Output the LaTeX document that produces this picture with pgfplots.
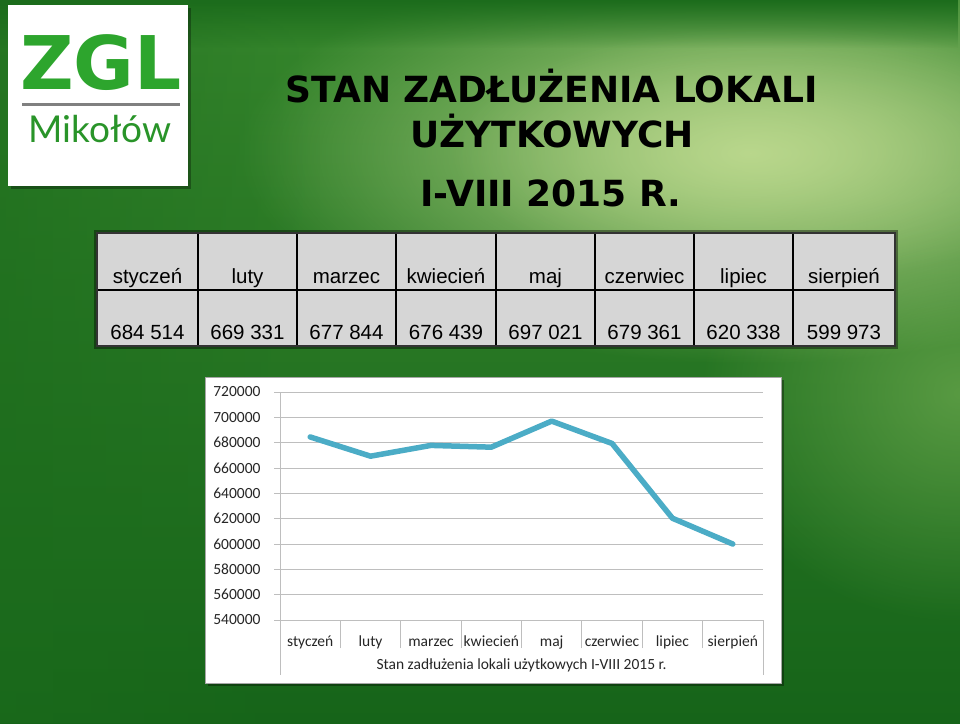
\documentclass[border=0pt]{standalone}
\usepackage{pgfplots}
\pgfplotsset{compat=1.18}
\usepackage{fontspec}
\setmainfont{Liberation Sans}
\newfontfamily\titlefont{DejaVu Sans}
\newfontfamily\calib{Carlito}
\newfontfamily\logofont{DejaVu Sans}
\newfontfamily\mikofont{Lato}
\usetikzlibrary{fadings}
\definecolor{bgtop}{RGB}{55,135,45}
\definecolor{bgbot}{RGB}{22,100,25}
\definecolor{bglight}{RGB}{185,215,140}
\definecolor{bgmid}{RGB}{110,170,80}
\definecolor{bgdark}{RGB}{28,108,28}
\definecolor{linec}{RGB}{75,172,198}
\definecolor{logogreen}{RGB}{45,165,45}
\definecolor{cellgray}{RGB}{214,214,214}
\definecolor{gridc}{RGB}{190,190,190}
\tikzfading[name=radfade, inner color=transparent!0, outer color=transparent!100]
\tikzfading[name=fadedown, top color=transparent!0, bottom color=transparent!100]
\tikzfading[name=faderight, left color=transparent!0, right color=transparent!100]
\begin{document}
\begin{tikzpicture}[x=1pt,y=1pt]
\clip (0,0) rectangle (960,723);
% background
\shade[top color=bgtop, bottom color=bgbot] (0,0) rectangle (960,723);
\fill[bgmid, path fading=radfade, opacity=0.7] (700,100) rectangle (1220,560);
\fill[bglight, path fading=radfade] (240,360) rectangle (1260,780);
\fill[bglight, path fading=radfade, opacity=0.6] (450,440) rectangle (1100,700);
\fill[bgdark, path fading=fadedown] (0,675) rectangle (960,723);
\fill[bgdark, path fading=faderight, opacity=0.6] (0,0) rectangle (320,723);
% logo
\fill[black, opacity=0.3] (11,534) rectangle (191,715);
\fill[white] (8,537) rectangle (188,718);
\node[anchor=base, inner sep=0, text=logogreen, font=\logofont\bfseries\fontsize{74}{74}\selectfont] at (101,633) {ZGL};
\draw[gray, line width=3pt] (22,618) -- (180,618);
\node[anchor=base, inner sep=0, text=logogreen!90!black, font=\mikofont\fontsize{37}{37}\selectfont] at (100,580) {Mikołów};
% title
\begin{scope}[every node/.style={anchor=base, inner sep=0, font=\titlefont\bfseries\fontsize{36}{36}\selectfont}]
\node at (551.5,620) {STAN ZADŁUŻENIA LOKALI};
\node at (552,575) {UŻYTKOWYCH};
\node at (551,516) {I-VIII 2015 R.};
\end{scope}
% table
\fill[black, opacity=0.4] (94,374) rectangle (898,493);
\fill[cellgray] (97,377) rectangle (895,490);
\draw[black, line width=1.2pt] (97,433) -- (895,433);
\foreach \x in {198,297,396,496,595,694,793} {\draw[black, line width=1.2pt] (\x,377) -- (\x,490);}
\draw[black!80, line width=2.5pt] (97,377) rectangle (895,490);
\begin{scope}[every node/.style={anchor=base, inner sep=0, font=\fontsize{20.5}{20.5}\selectfont}]
\node at (147.5,439) {styczeń};
\node at (247.5,439) {luty};
\node at (346.5,439) {marzec};
\node at (446,439) {kwiecień};
\node at (545.5,439) {maj};
\node at (644.5,439) {czerwiec};
\node at (743.5,439) {lipiec};
\node at (844,439) {sierpień};
\node at (147.5,383) {684 514};
\node at (247.5,383) {669 331};
\node at (346.5,383) {677 844};
\node at (446,383) {676 439};
\node at (545.5,383) {697 021};
\node at (644.5,383) {679 361};
\node at (743.5,383) {620 338};
\node at (844,383) {599 973};
\end{scope}
% chart panel
\fill[black, opacity=0.35] (208,37) rectangle (784,343);
\fill[white] (205,40) rectangle (781,346);
\draw[gray!70, line width=0.8pt] (205,40) rectangle (781,346);
\begin{axis}[at={(280pt,103pt)}, anchor=south west, scale only axis,
  width=483pt, height=228pt,
  xmin=-0.5, xmax=7.5, ymin=540000, ymax=720000,
  axis lines*=left, axis line style={gridc, line width=0.9pt},
  xtick={-0.5,0.5,...,7.5}, x tick label as interval,
  xticklabels={styczeń,luty,marzec,kwiecień,maj,czerwiec,lipiec,sierpień},
  ytick={540000,560000,...,720000},
  ymajorgrids, y grid style={gridc, line width=0.9pt},
  tick align=outside, major tick length=6pt,
  xtick style={gridc, line width=0.9pt, /pgfplots/major tick length=28pt},
  ytick style={gridc, line width=0.9pt},
  scaled y ticks=false,
  yticklabel style={/pgf/number format/fixed, /pgf/number format/1000 sep={}, xshift=-10pt},
  /pgf/number format/assume math mode=true,
  tick label style={font=\calib\fontsize{15.5}{15.5}\selectfont, text=black!85},
  xticklabel style={anchor=base, yshift=-20pt},
  xlabel={Stan zadłużenia lokali użytkowych I-VIII 2015 r.},
  xlabel style={at={(axis description cs:0.5,0)}, anchor=base, yshift=-49pt, font=\calib\fontsize{15.5}{15.5}\selectfont, text=black!85},
  clip=false]
\addplot[linec, line width=5.5pt, line join=round, line cap=round] coordinates {(0,684514) (1,669331) (2,677844) (3,676439) (4,697021) (5,679361) (6,620338) (7,599973)};
\draw[gridc, line width=0.9pt] (rel axis cs:0,0) -- ++(0pt,-55pt);
\draw[gridc, line width=0.9pt] (rel axis cs:1,0) -- ++(0pt,-55pt);
\end{axis}
\end{tikzpicture}
\end{document}
